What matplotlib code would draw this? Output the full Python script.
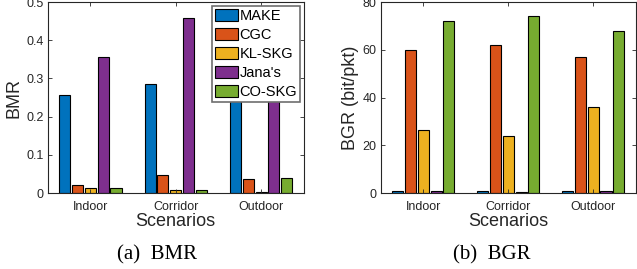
import matplotlib
matplotlib.use("Agg")
import matplotlib.pyplot as plt
import numpy as np

scenarios = ["Indoor", "Corridor", "Outdoor"]
methods = ["MAKE", "CGC", "KL-SKG", "Jana's", "CO-SKG"]
colors = ["#0072BD", "#D95319", "#EDB120", "#7E2F8E", "#77AC30"]

bmr_make = [0.256, 0.285, 0.27]
bmr_cgc = [0.022, 0.046, 0.037]
bmr_kl = [0.014, 0.009, 0.002]
bmr_jana = [0.356, 0.458, 0.30]
bmr_co = [0.013, 0.009, 0.038]

bgr_make = [0.7, 1.0, 0.7]
bgr_cgc = [60, 62, 57]
bgr_kl = [26.5, 24, 36]
bgr_jana = [1.0, 0.3, 1.0]
bgr_co = [72, 74, 68]

plt.rcParams['font.family'] = ['Liberation Sans', 'DejaVu Sans']
axc = "#262626"

fig = plt.figure(figsize=(6.37, 2.69), dpi=100)
ax1 = fig.add_axes([0.0749, 0.2825, 0.402, 0.71])
ax2 = fig.add_axes([0.598, 0.2825, 0.400, 0.71])

x = np.arange(1, len(scenarios) + 1)
step = 0.15
width = 0.13

def draw(ax, series, ylim, yticks, ylabel, legend=False):
    for i, (vals, c) in enumerate(zip(series, colors)):
        off = (i - 2) * step
        ax.bar(x + off, vals, width, color=c, edgecolor="black", linewidth=0.8, label=methods[i])
    ax.set_xlim(0.5, 3.5)
    ax.set_ylim(*ylim)
    ax.set_yticks(yticks)
    ax.set_xticks(x)
    ax.set_xticklabels(scenarios, fontsize=9, color=axc)
    ax.tick_params(axis='y', labelsize=9, colors=axc, pad=3)
    ax.tick_params(axis='x', pad=6)
    ax.tick_params(direction='in', top=True, right=True, length=3, width=0.6, color=axc)
    for s in ax.spines.values():
        s.set_color(axc)
        s.set_linewidth(0.8)
    ax.set_xlabel("Scenarios", fontsize=13, color=axc, labelpad=0)
    ax.set_ylabel(ylabel, fontsize=13, color=axc, labelpad=3)
    if legend:
        leg = ax.legend(loc="upper right", fontsize=10.5, frameon=True, fancybox=False,
                        borderpad=0.2, labelspacing=0.35, handlelength=1.6, handleheight=0.9,
                        handletextpad=0.08, borderaxespad=0.25)
        leg.get_frame().set_edgecolor("#6e6e6e")
        leg.get_frame().set_linewidth(1.2)
        leg.get_frame().set_alpha(1)

draw(ax1, [bmr_make, bmr_cgc, bmr_kl, bmr_jana, bmr_co], (0, 0.5),
     [0, 0.1, 0.2, 0.3, 0.4, 0.5], "BMR", legend=True)
ax1.set_yticklabels(["0", "0.1", "0.2", "0.3", "0.4", "0.5"])
draw(ax2, [bgr_make, bgr_cgc, bgr_kl, bgr_jana, bgr_co], (0, 80),
     [0, 20, 40, 60, 80], "BGR (bit/pkt)")

fig.text(0.246, 0.037, "(a)  BMR", fontsize=15, family=['Liberation Serif'], ha='center', va='baseline')
fig.text(0.772, 0.037, "(b)  BGR", fontsize=15, family=['Liberation Serif'], ha='center', va='baseline')

fig.savefig("out.png", dpi=100)
